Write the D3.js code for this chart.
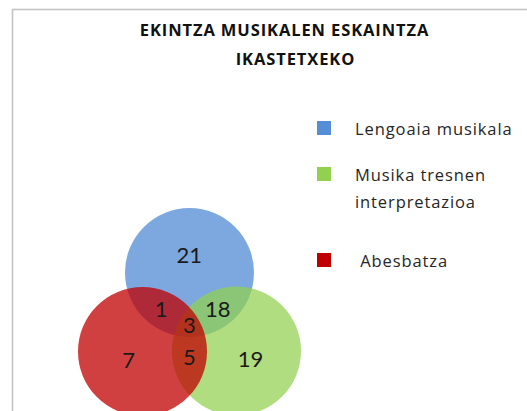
<!DOCTYPE html>
<html>
<head>
<meta charset="utf-8">
<script src="https://cdn.jsdelivr.net/npm/d3@7"></script>
<style>
  html, body { margin: 0; padding: 0; background: #fff; }
  #chart { width: 527px; height: 411px; }
  text { font-family: "Open Sans", Lato, sans-serif; }
</style>
</head>
<body>
<div id="chart"></div>
<script>
// ============================================================================
// VENN CHART - music activities offered at the school
// ============================================================================

const titleLines = ['EKINTZA MUSIKALEN ESKAINTZA', 'IKASTETXEKO'];
const setNames = ['Lengoaia musikala', 'Musika tresnen interpretazioa', 'Abesbatza'];
const legendLines = [['Lengoaia musikala'], ['Musika tresnen', 'interpretazioa'], [' Abesbatza']];
const setColors = ['#558ed5', '#92d050', '#c00000'];
// each region: which sets (0 = blue, 1 = green, 2 = red) and its count
const regionSets = [[0], [0, 2], [0, 1], [0, 1, 2], [1, 2], [2], [1]];
const regionValues = [21, 1, 18, 3, 5, 7, 19];

const width = 527, height = 411;

const svg = d3.select('#chart').append('svg')
    .attr('width', width)
    .attr('height', height);

// chart frame (runs off the right and bottom edge)
svg.append('rect')
    .attr('x', 12.5).attr('y', 9.5)
    .attr('width', width).attr('height', height)
    .attr('fill', '#fff')
    .attr('stroke', '#c4c4c4')
    .attr('stroke-width', 1.6);

// Title
svg.selectAll('.title')
    .data(titleLines)
    .join('text')
    .attr('class', 'title')
    .attr('x', (d, i) => i === 0 ? 284.5 : 295.5)
    .attr('y', (d, i) => 36 + i * 29)
    .attr('text-anchor', 'middle')
    .style('font-size', '16.5px')
    .style('letter-spacing', '0.9px')
    .style('font-weight', 'bold')
    .style('fill', '#111')
    .text(d => d);

// Venn layout
const r = 64.5;
const topC = { x: 189.5, y: 272.5 };
const dx = 47, dy = 79;
const centers = [
    topC,                                     // blue
    { x: topC.x + dx, y: topC.y + dy - 0.5 }, // green
    { x: topC.x - dx, y: topC.y + dy }        // red
];

const g = svg.append('g');

g.selectAll('circle')
    .data(setNames)
    .join('circle')
    .attr('cx', (d, i) => centers[i].x)
    .attr('cy', (d, i) => centers[i].y)
    .attr('r', r)
    .attr('fill', (d, i) => setColors[i])
    .attr('fill-opacity', (d, i) => [0.77, 0.73, 0.75][i]);

// label position: centroid of each region, pulled a bit toward the middle
const inside = (p, i) => (p.x - centers[i].x) ** 2 + (p.y - centers[i].y) ** 2 <= r * r;
const mid = {
    x: d3.mean(centers, c => c.x),
    y: d3.mean(centers, c => c.y)
};

function regionCentroid(sets) {
    let sx = 0, sy = 0, n = 0;
    for (let x = 60; x < 320; x += 1) {
        for (let y = 200; y < 430; y += 1) {
            const p = { x, y };
            let ok = true;
            for (let i = 0; i < 3; i++) {
                if (inside(p, i) !== sets.includes(i)) { ok = false; break; }
            }
            if (ok) { sx += x; sy += y; n++; }
        }
    }
    return { x: sx / n, y: sy / n };
}

const labels = regionSets.map((sets, k) => {
    const c = regionCentroid(sets);
    const pull = sets.length === 1 ? 0 : 0.08;
    return {
        value: regionValues[k],
        x: c.x + (mid.x - c.x) * pull,
        y: c.y + (mid.y - c.y) * pull
    };
});

g.selectAll('.vlabel')
    .data(labels)
    .join('text')
    .attr('class', 'vlabel')
    .attr('x', d => d.x)
    .attr('y', d => d.y)
    .attr('dy', '0.36em')
    .attr('text-anchor', 'middle')
    .style('font-family', 'Lato, sans-serif')
    .style('font-size', '22px')
    .style('fill', '#1a1a1a')
    .text(d => d.value);

// Legend
const legendTop = [121, 167, 253];
const legend = svg.selectAll('.legend')
    .data(legendLines)
    .join('g')
    .attr('class', 'legend')
    .attr('transform', (d, i) => `translate(317,${legendTop[i]})`);

legend.append('rect')
    .attr('width', 14).attr('height', 14)
    .attr('fill', (d, i) => setColors[i]);

legend.each(function(lines) {
    d3.select(this).selectAll('text')
        .data(lines)
        .join('text')
        .attr('x', 38)
        .attr('y', (d, j) => 14 + j * 27)
        .style('white-space', 'pre')
        .style('font-size', '16.5px')
        .style('letter-spacing', '0.9px')
        .style('fill', '#262626')
        .text(d => d);
});
</script>
</body>
</html>
